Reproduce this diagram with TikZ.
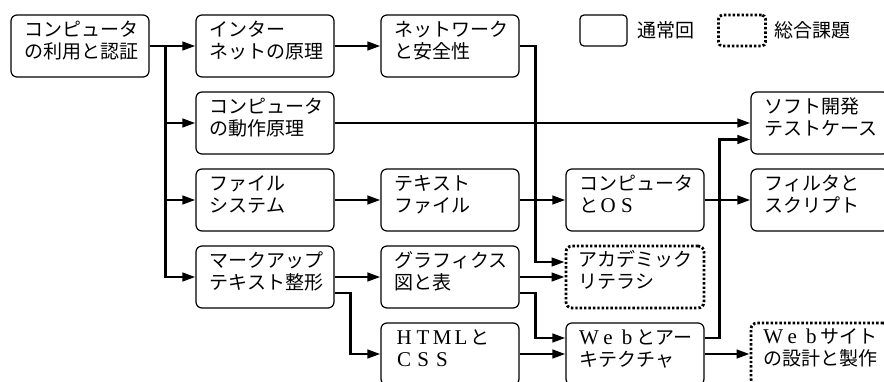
\documentclass[tikz,border=0pt]{standalone}
\usepackage{fontspec}
\setmainfont{Noto Sans CJK JP}
\newfontfamily\latinserif{Liberation Serif}
\usetikzlibrary{arrows.meta}
\newcommand{\fwl}[1]{\makebox[19pt]{\latinserif\fontsize{21pt}{22pt}\selectfont #1}}
\tikzset{
  solidbox/.style={draw, line width=1.2pt, rounded corners=6pt, minimum width=138pt, minimum height=62pt, inner sep=0pt},
  dotbox/.style={solidbox, line width=2.8pt, dash pattern=on 2.4pt off 2.0pt},
  txt/.style={anchor=base west, inner sep=0pt, font=\fontsize{19pt}{22pt}\selectfont},
  conn/.style={line width=2.6pt, -{Triangle[length=13pt,width=8.5pt]}},
  legsolid/.style={draw, line width=1.2pt, rounded corners=4pt, minimum width=47pt, minimum height=31pt, inner sep=0pt},
  legdot/.style={legsolid, line width=2.8pt, dash pattern=on 2.4pt off 2.0pt},
}
\newcommand{\mybox}[5][solidbox]{%
  \node[#1] (#2) at (#3,#4) {};
  \node[txt] (#2t) at ([xshift=14pt,yshift=-22pt]#2.north west) {\parbox[t]{125pt}{#5}};}
\begin{document}
\begin{tikzpicture}[x=1pt,y=-1pt]
\useasboundingbox (0,0) rectangle (884,381);
% boxes
\mybox{a}{80}{46}{コンピュータ\\の利用と認証}
\mybox{b}{265}{46}{インター\\ネットの原理}
\mybox{c}{265}{123}{コンピュータ\\の動作原理}
\mybox{d}{265}{200}{ファイル\\システム}
\mybox{e}{265}{277}{マークアップ\\テキスト整形}
\mybox{f}{450}{46}{ネットワーク\\と安全性}
\mybox{tf}{450}{200}{テキスト\\ファイル}
\mybox{g}{450}{277}{グラフィクス\\図と表}
\mybox{html}{450}{354}{\fwl{H}\fwl{T}\fwl{M}\fwl{L}と\\\fwl{C}\fwl{S}\fwl{S}}
\mybox{cos}{635}{200}{コンピュータ\\と\fwl{O}\fwl{S}}
\mybox[dotbox]{acad}{635}{277}{アカデミック\\リテラシ}
\mybox{web}{635}{354}{\fwl{W}\fwl{e}\fwl{b}とアー\\キテクチャ}
\mybox{soft}{820}{123}{ソフト開発\\テストケース}
\mybox{filt}{820}{200}{フィルタと\\スクリプト}
\mybox[dotbox]{wsite}{820}{354}{\fwl{W}\fwl{e}\fwl{b}サイト\\の設計と製作}
% legend
\node[legsolid] (l1) at (603.5,30.5) {};
\node[txt, anchor=west] (l1t) at (637,30.5) {通常回};
\node[legdot] (l2) at (742,30.5) {};
\node[txt, anchor=west] (l2t) at (774,30.5) {総合課題};
% connectors
\coordinate (ja) at ([xshift=16pt]a.east);
\draw[conn] (a.east) -- (b.west);
\draw[conn] (ja) |- (c.west);
\draw[conn] (ja) |- (d.west);
\draw[conn] (ja) |- (e.west);
\draw[conn] (b) -- (f);
\draw[conn] (f.east) -- ++(16pt,0pt) |- ([yshift=15pt]acad.west);
\draw[conn] (c) -- (soft);
\draw[conn] (d) -- (tf);
\draw[conn] (tf) -- (cos);
\draw[conn] (cos) -- (filt);
\draw[conn] (e) -- (g);
\draw[conn] ([yshift=-16pt]e.east) -- ++(16pt,0pt) |- (html.west);
\draw[conn] (g) -- (acad);
\draw[conn] ([yshift=-16pt]g.east) -- ++(16pt,0pt) |- ([yshift=16pt]web.west);
\draw[conn] (html) -- (web);
\draw[conn] (web) -- (wsite);
\draw[conn] ([yshift=16pt]web.east) -- ++(15pt,0pt) |- ([yshift=-16.5pt]soft.west);
\end{tikzpicture}
\end{document}
